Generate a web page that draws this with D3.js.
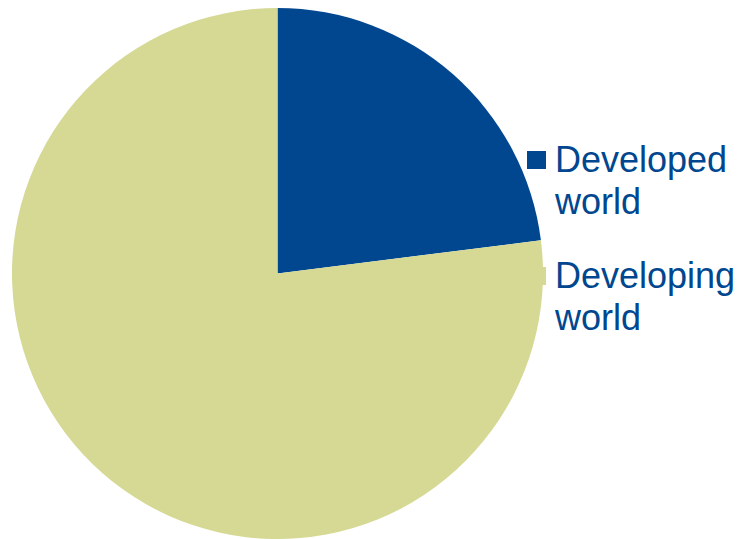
<!DOCTYPE html>
<html>
<head>
<meta charset="utf-8">
<script src="https://cdn.jsdelivr.net/npm/d3@7"></script>
<style>
  body { margin: 0; background: #fff; }
  svg { display: block; }
  .legendLabel { font-family: "Liberation Sans", Arial, sans-serif; font-size: 36px; fill: #00478f; }
</style>
</head>
<body>
<div class="chart"></div>
<script>
// data (percent share)
const categories = ['Developed world', 'Developing world'];
const labelLines = [['Developed', 'world'], ['Developing', 'world']];
const shares = [23, 77];
const colours = ['#00478f', '#d5d994'];

const width = 744, height = 539;

const svg = d3.select('.chart')
  .append('svg')
  .attr('width', width)
  .attr('height', height);

const colorScale = d3.scaleOrdinal()
  .domain(categories)
  .range(colours);

// legend first - the pie overlaps the second marker a bit
const legend = svg.append('g')
  .attr('transform', 'translate(527, 151)');

const items = legend.selectAll('g')
  .data(categories)
  .enter().append('g')
    .attr('transform', (d, i) => `translate(0, ${i * 116})`);

items.append('rect')
  .attr('width', 19)
  .attr('height', 18)
  .attr('fill', d => colorScale(d));

items.append('text')
  .attr('class', 'legendLabel')
  .attr('x', 28)
  .attr('y', 21)
  .selectAll('tspan')
  .data((d, i) => labelLines[i])
  .enter().append('tspan')
    .attr('x', 28)
    .attr('dy', (d, i) => i === 0 ? 0 : 42)
    .text(d => d);

// pie
const radius = 265.5;
const pie = d3.pie().sort(null).value(d => d);
const arc = d3.arc().innerRadius(0).outerRadius(radius);

const graph = svg.append('g')
  .attr('transform', 'translate(277.5, 273.5)');

graph.selectAll('path')
  .data(pie(shares))
  .enter().append('path')
    .attr('d', arc)
    .attr('fill', (d, i) => colorScale(categories[i]));
</script>
</body>
</html>
